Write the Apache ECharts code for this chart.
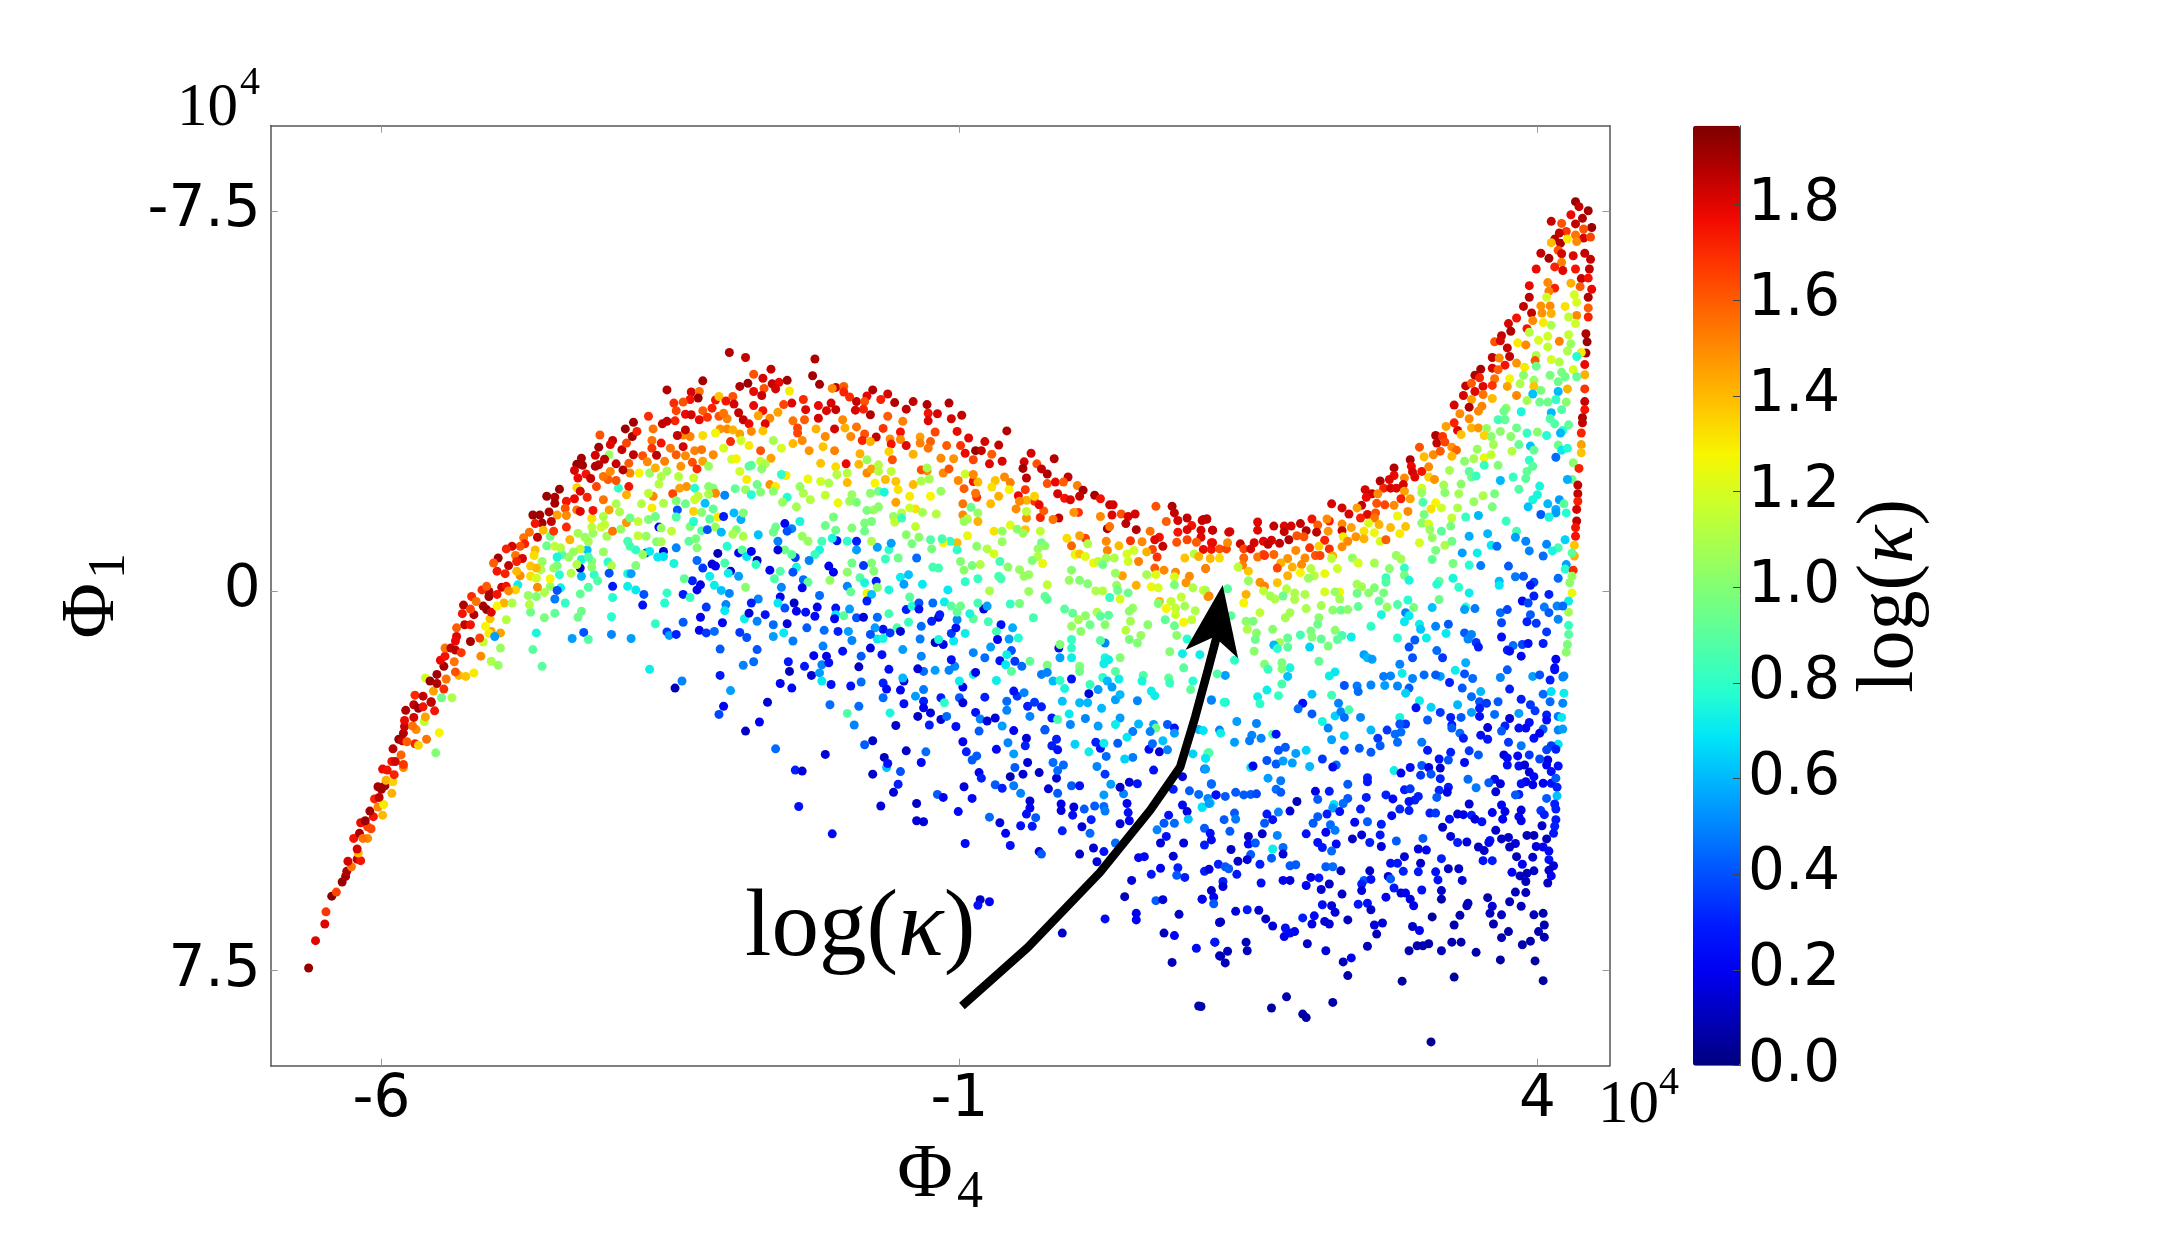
<!DOCTYPE html>
<html><head><meta charset="utf-8"><style>html,body{margin:0;padding:0;background:#fff}#c{width:2160px;height:1253px}</style>
<script src="https://cdn.jsdelivr.net/npm/echarts@6/dist/echarts.min.js"></script></head><body><div id="c"></div>
<script>
// Each list holds triples: Φ4 measured from the -1 tick, Φ1, log(κ), all in axis units (×10^4).
const PHI4_ORIGIN=-1;
const tail=[-5.63,7.45,1.93,-5.57,6.91,1.8,-5.49,6.58,1.8,-5.48,6.34,1.68,-5.43,6.03,1.95,-5.39,5.95,1.65,-5.34,5.75,1.92,-5.31,5.64,1.9,-5.3,5.54,1.88,-5.26,5.45,1.55,-5.29,5.34,1.82,-5.21,5.3,1.85,-5.18,5.33,1.75,-5.2,5.18,1.4,-5.21,5.1,1.82,-5.24,4.89,1.75,-5.19,4.79,1.88,-5.12,4.89,1.5,-5.16,4.89,1.55,-5.09,4.7,1.65,-5.12,4.66,1.65,-5.18,4.58,1.78,-5.14,4.54,1.92,-5.07,4.46,1.75,-5.1,4.35,1.9,-4.99,4.43,1.4,-5.03,4.27,1.5,-4.98,4.22,1.3,-5.06,4.11,1.72,-5.02,4.08,1.85,-4.91,4,1.42,-5.03,3.87,1.9,-5,3.92,1.9,-4.97,3.85,1.9,-4.96,3.74,1.42,-4.9,3.77,1.35,-4.89,3.63,1.72,-4.99,3.52,1.78,-4.95,3.54,1.75,-4.81,3.49,1.5,-4.81,3.43,1.68,-4.91,3.37,1.75,-4.88,3.37,1.82,-4.83,3.24,1.58,-4.9,3.12,1.86,-4.53,3.2,1,-4.61,2.93,1.55,-4.5,2.8,1.28,-4.71,3.02,1.72,-4.68,3.05,1.35,-4.85,2.93,1.92,-4.82,2.96,1.85,-4.78,2.98,1.6,-4.81,2.81,1.88,-4.7,2.74,1.5,-4.8,2.68,1.85,-4.8,2.56,1.78,-4.73,2.67,1.55,-4.63,2.58,1.15,-4.72,2.5,1.82,-4.62,2.49,1.45,-4.79,2.36,1.88,-4.72,2.25,1.86,-4.68,2.32,1.92,-4.64,2.29,1.75,-4.54,2.37,1.75,-4.57,2.2,1.95];
const leftArm=[-4.71,2.06,1.7,-4.64,2.08,1.85,-4.57,2.19,1.85,-4.48,2.11,.95,-4.39,2.11,1.1,-4.55,1.98,1.45,-4.62,1.72,1.2,-4.58,1.78,1.92,-4.52,1.65,1.9,-4.52,1.83,1.88,-4.46,1.94,1.7,-4.44,1.74,1.55,-4.33,1.67,1.42,-4.27,1.69,1.38,-4.2,1.62,1.3,-4.36,1.6,1.62,-4.46,1.49,1.9,-4.49,1.37,1.78,-4.37,1.4,1.55,-4.45,1.29,1.75,-4.45,1.13,1.55,-4.4,1.13,1.85,-4.36,1.17,1.87,-4.31,1.22,1.68,-4.14,1.29,1.5,-4.05,1.39,1.1,-3.99,1.47,1.05,-3.97,1.13,1.05,-4.12,1.01,1.15,-4.23,1,1.9,-4.15,.93,1.65,-4.35,.9,1.8,-4.36,.99,1.78,-3.97,.83,1.45,-4.05,.8,1.45,-4.07,.84,1.3,-4.02,.9,.55,-4.28,.67,1.85,-4.23,.67,1.75,-4.35,.73,1.6,-4.1,.7,1.28,-3.92,.57,1.12,-4.06,.55,1.38,-4.3,.45,1.75,-4.2,.47,1.88,-4.09,.37,1.92,-4.05,.42,1.8,-4.12,.3,1.9,-4.29,.28,1.88,-4.22,.11,1.7,-4.23,.36,1.65,-3.94,.24,1.42,-4,.3,1.28,-3.87,.24,1.1,-3.71,.42,.95,-3.72,.27,1.12,-3.59,.53,.98,-3.5,.44,.92,-3.66,.83,.75,-3.69,1.16,.9,-3.61,1.49,.9,-3.3,.52,.95,-3.27,.4,.95,-3.35,.94,.55,-3.25,.82,.4,-3.21,.96,.88,-3.01,.86,.5,-2.84,.94,.55,-3.01,.51,.78,-2.63,.65,.8,-2.68,1.55,.72,-2.53,.81,.35,-2.51,.88,.55,-2.45,.86,.3,-2.39,.62,.42,-2.25,.78,.2,-2.19,.83,.35,-2.12,.8,.45,-2.24,.52,.2,-2.05,.63,.2,-1.9,.82,.35,-1.84,.92,.4,-2.07,1.15,.42,-1.87,1.47,.5,-2.07,1.67,.28,-2.4,1.78,.5,-2.46,1.92,.1,-1.98,1.97,.55,-2.04,2.28,.2,-2.08,2.44,.38,-1.85,2.77,.12];
const leftMid=[-3.82,-.12,.72,-3.84,-.02,1.35,-3.73,.09,1.05,-3.66,.11,1,-3.59,.03,1.1,-3.54,-.09,1.05,-3.65,-.07,1.5,-3.54,-.24,1.28,-3.45,-.06,.72,-3.48,-.01,.4,-3.5,.16,.48,-3.41,.24,.82,-3.28,.06,.92,-3.21,-.07,.88,-3,.13,.78,-3,-.09,.28,-2.87,-.09,.72,-2.8,-.02,.7,-2.73,.07,.4,-2.74,.28,.25,-2.53,.04,.8,-2.55,.24,.78,-2.39,.07,.3,-2.33,.13,.82,-2.27,-.02,.2,-2.24,-.12,.18,-2.31,-.2,.3,-2.38,-.24,.92,-2.19,.32,.35,-2.12,-.11,.72,-2.06,-.01,.62,-1.99,.05,.5,-2.02,.27,.5,-2.03,.39,.7,-1.86,.55,.72,-1.82,.44,.15,-1.91,-.29,.55,-1.85,-.07,1.02,-2.16,-.29,.72,-2.22,-.45,.35,-2.14,-.53,.15,-2.11,-.49,.2,-2.27,-.6,.45,-2.09,-.74,.1,-1.98,-.39,.15,-2,-.35,.72,-2.03,-.55,.85,-2.01,-.88,.78,-1.91,-.75,.2,-1.88,-.81,.9,-1.84,-.68,.68,-2.47,-.54,.75,-2.56,-.78,.12,-2.56,-.68,.68,-2.61,-.67,.7,-2.71,-.75,.35,-2.68,-.78,.7,-2.74,-.72,1.05,-2.8,-.81,.8,-2.85,-.88,.85,-2.87,-.98,.85,-2.8,-.5,1,-3.04,-.57,.78,-3.01,-.5,1.1,-3.08,-.77,1.05,-3.03,-.35,.4,-2.87,-.34,.75,-2.84,-.34,.55,-2.45,-.85,.5,-2.27,-.85,1,-2.34,-.98,.9,-2.28,-1.03,.98,-3.16,-.32,.8,-3.13,-.2,.88,-3.27,-.29,.6,-3.28,-.45,.1,-3.27,-.62,.75,-3.22,-.81,.62,-3.18,-.58,1,-3.18,-.47,1.02,-3.21,-.67,.88,-3.36,-.35,1.12,-3.31,-.52,1.12,-3.28,-.83,1.15,-3.34,-.77,1.05,-3.38,-.67,1.05,-3.44,-.72,.9,-3.48,-.67,.75,-3.46,-.32,.78,-3.51,-.45,1.05,-3.48,-.5,1,-3.61,-.58,1.05,-3.62,-.42,1.1,-3.57,-.89,.95,-3.5,-.88,1.15,-3.45,-.85,1.12,-3.3,-1.14,1.08,-3.24,-1.06,1.05,-3.21,-.97,1.08,-3.54,-1.08,.95,-3.05,-1.08,1.08,-3.17,-1.14,1.05,-3.18,-1.26,1.12,-3.1,-1.26,1.18,-3.07,-1.31,1.15,-2.78,-1.09,1.15,-2.71,-1.08,1.05,-3,-1.18,1.55,-2.93,-1.22,1.05,-2.88,-1.35,1.48,-2.78,-1.37,1.15,-2.85,-1.44,.95,-2.69,-1.41,1,-2.94,-1.56,1.1,-3.08,-1.47,1.1,-3.18,-1.43,1.32,-3.03,-1.6,1.45,-2.97,-1.72,1.1,-3.08,-1.8,1.55,-2.75,-1.72,1.12,-2.66,-1.64,1.3,-2.63,-1.47,.95,-2.44,-1.6,.4,-2.45,-1.46,.88,-2.6,-1.26,.2,-2.58,-1.24,1.05,-2.49,-1.18,1.15,-2.62,-.97,1,-2.58,-.97,1.08,-2.33,-1.27,.98,-2.3,-1.37,.78,-2.23,-1.19,.9,-2.18,-1.21,.4,-2.11,-1.26,1.05,-2.06,-1.16,.6,-2.16,-1.42,.9,-2.23,-1.55,1.02,-2.3,-1.57,1.35,-2.09,-1.46,1.3,-2.04,-1.47,.3,-2.13,-1.62,.92,-2.2,-1.73,.62,-1.95,-1.54,.6,-1.89,-1.41,.58,-1.87,-1.54,1,-1.93,-1.21,1,-1.96,-1.12,1.08,-1.87,-1.08,1.1];
const leftUpper=[-2.42,-2.03,1.45,-2.36,-2.06,1.48,-2.48,-1.92,1.65,-2.37,-1.72,.95,-2.45,-1.78,1,-2.56,-1.73,1.1,-2.65,-1.87,1.5,-2.69,-1.93,1.15,-2.29,-2.03,.78,-2.17,-2.06,1.02,-2.13,-2.03,1,-2.11,-1.93,1.5,-2.03,-1.89,.5,-1.94,-2.02,.92,-2.29,-1.8,1.18,-2.26,-1.87,1.15,-2.17,-1.91,1.1,-1.85,-2,1.05,-1.84,-2.2,1.3,-1.9,-2.36,1.18,-1.82,-2.46,.9,-2.3,-2.23,1.18,-2.43,-2.26,1.12,-2.53,-2.37,1.08,-2.58,-2.26,1.1,-2.6,-2.11,1.12,-2.68,-2.33,1.05,-2.77,-2.33,1.28,-2.85,-2.33,1.5,-2.86,-2.06,1.75,-2.95,-2.03,.8,-2.88,-1.9,1.42,-2.97,-2.18,1.62,-3.04,-2.2,1.6,-3.08,-2.26,1.55,-3.14,-2.06,1.65,-3.02,-2.36,1.5,-2.91,-2.39,1.88,-2.97,-2.51,1.85,-2.86,-2.52,1.6,-2.82,-2.69,1.85,-2.92,-2.79,1.85,-2.88,-2.92,1.65,-2.83,-3.05,1.9,-2.89,-3.2,1.92,-2.82,-3.33,1.9,-2.79,-3.15,1.72,-2.69,-3.45,1.7,-2.65,-3.2,1.55,-3,-2.97,1.85,-3.02,-2.89,1.8,-3.11,-3.08,1.62,-3.12,-2.84,1.9,-3.15,-2.68,1.82,-3.03,-2.69,1.05,-3.07,-2.6,1.86,-3.12,-2.49,1.85,-3.15,-2.46,1.88,-3.27,-2.62,1.9,-3.31,-2.5,1.92,-3.26,-2.48,1.9,-3.33,-2.38,1.82,-3.23,-2.31,1.75,-3.3,-2.23,1.78,-3.19,-2.22,1.85,-3.31,-2.04,1.35,-3.28,-1.97,1.82,-3.22,-1.85,1.72,-3.33,-1.82,1.78,-3.46,-2.01,1.92,-3.57,-1.87,1.92,-3.5,-1.85,1.88,-3.4,-1.77,1.75,-3.5,-1.73,1.9,-3.41,-1.63,1.62,-3.48,-1.5,1.45,-3.4,-1.49,1.5,-3.31,-1.6,1.55,-3.28,-1.57,1.8,-3.17,-1.59,1.75,-3.55,-1.56,1.88,-3.63,-1.5,1.9,-3.69,-1.5,1.92,-3.61,-1.34,1.9,-3.53,-1.37,1.85,-3.67,-1.33,1.75,-3.6,-1.2,1.4,-3.51,-1.18,1.68,-3.4,-1.26,1.7,-3.37,-1.01,1.42,-3.65,-1.06,1.85,-3.72,-1.16,1.55,-3.77,-1.05,1.55,-3.76,-.93,1.72,-3.8,-.88,1.62,-3.87,-.88,1.82,-3.92,-.83,1.72,-3.67,-.81,1.4,-3.68,-.7,1.33,-3.99,-.65,1.9,-4.03,-.55,1.6,-3.84,-.7,1.55,-3.78,-.64,1.82,-3.83,-.58,1.72,-3.9,-.5,1.85,-4,-.39,1.75,-3.93,-.34,1.72,-3.8,-.3,1.5,-3.71,-.49,1.38,-3.66,-.45,1.4,-3.71,-.29,1.32,-3.66,-.25,1.2,-3.83,-.39,1.4,-3.96,-.07,1.82,-3.92,-.09,1.75,-4.07,.01,1.88,-4.07,.11,1.9,-4.13,-.02,1.7,-4.09,-.09,1.6,-4,.07,1.75,-4.18,.21,1.55,-3.9,0,1.5];
const humpTop=[-2.53,-3.97,1.88,-2.22,-4.15,1.9,-1.99,-4.71,1.88,-1.85,-4.61,1.85,-2.32,-3.93,1.82,-2.25,-3.94,1.55,-2.26,-3.81,1.92,-2.33,-3.78,1.75,-2.39,-3.73,1.62,-2.47,-3.71,1.7,-2.45,-3.56,1.65,-2.46,-3.36,1.72,-2.53,-3.35,1.85,-2.57,-3.3,1.85,-2.37,-3.49,1.78,-2.32,-3.48,1.82,-2.22,-3.56,1.6,-2.25,-3.38,1.78,-2.18,-3.43,1.68,-2.14,-3.61,1.72,-2.11,-3.77,1.75,-2.08,-3.84,1.38,-2.02,-3.75,1.75,-1.96,-3.84,1.62,-1.9,-4.04,1.88,-1.83,-4.1,1.92,-1.95,-3.69,1.82,-1.91,-3.52,1.85,-1.87,-3.38,1.85,-1.82,-3.3,1.78,-2.08,-3.45,1.62,-2.01,-3.4,1.52,-2.04,-3.51,1.55,-2.07,-3.2,1.48,-2.01,-3.2,1.5,-1.96,-3.18,1.42,-2.11,-3.12,1.28,-2.22,-3.07,1.33,-2.33,-3.05,1.52,-2.39,-3.08,1.5,-2.44,-3.07,1.85,-2.37,-3.18,1.85,-2.58,-2.92,1.75,-2.66,-2.97,1.55,-2.66,-2.82,1.68,-2.74,-2.67,1.62,-2.62,-2.68,1.86,-2.7,-2.55,1.5,-2.63,-2.43,1.42,-2.55,-2.56,1.52,-2.5,-2.82,1.55,-2.39,-2.85,1.82,-2.45,-2.69,1.6,-2.37,-2.67,1.5,-2.41,-2.46,1.48,-2.31,-2.54,1.62,-2.27,-2.41,1.7,-2.22,-2.56,1.45,-2.29,-2.77,1.52,-2.23,-2.79,1.55,-2.13,-2.69,1.5,-1.98,-2.95,1.7,-1.9,-3.1,1.45,-2.04,-2.82,1.2,-1.97,-2.6,1.18,-1.93,-2.61,1.28,-1.89,-2.97,1.18,-2.17,-2.46,1.05,-1.82,-2.87,1.3];
const ridgeMiddle=[-1.25,-4.58,1.88,-1.63,-4.38,1.85,-1.78,-4.28,1.62,-1.7,-4.2,1.82,-1.62,-4.09,1.85,-1.56,-4.12,1.78,-1.49,-4.16,1.9,-1.27,-4.25,1.9,-1.21,-4.08,1.9,-1.47,-3.95,1.3,-1.59,-3.99,1.82,-1.69,-4,1.62,-1.78,-3.94,1.78,-1.71,-3.86,1.85,-1.07,-4.02,1.85,-1.1,-4,1.5,-1,-4.04,1.6,-1,-3.93,1.72,-.95,-3.83,1.7,-.89,-3.74,1.85,-.75,-3.97,1.88,-.8,-3.85,1.8,-.82,-3.74,1.62,-.62,-3.89,1.82,-.68,-3.78,1.72,-.56,-3.72,1.88,-.4,-3.74,1.85,-.28,-3.68,1.88,-.09,-3.71,1.88,-.46,-3.59,1.85,-.27,-3.51,1.75,-.19,-3.5,1.82,.02,-3.47,1.85,-.07,-3.4,1.82,-.27,-3.36,1.8,-.62,-3.45,1.6,-.77,-3.48,1.88,-.83,-3.59,1.72,-.9,-3.57,1.82,-1.07,-3.58,1.85,-1.15,-3.56,1.8,-1.22,-3.66,1.78,-1.11,-3.71,1.82,-1.35,-3.78,1.7,-1.45,-3.71,1.8,-1.52,-3.68,1.65,-1.33,-3.58,1.8,-1.7,-3.56,1.75,-1.78,-3.66,1.78,-1.57,-3.53,1.45,-1.64,-3.41,1.5,-1.68,-3.3,1.8,-1.74,-3.46,1.45,-1.44,-3.36,1.55,-1.34,-3.38,1.6,-1.22,-3.41,1.82,-1.01,-3.38,1.5,-.89,-3.24,1.55,-.99,-3.22,1.42,-1.08,-3.2,1.82,-1.24,-3.2,1.42,-1.4,-3.22,1.65,-1.7,-3.16,1.38,-1.8,-3.15,1.5,-1.4,-3.12,1.65,-1.36,-2.97,1.5,-1.44,-2.91,1.4,-1.16,-3.05,1.5,-1.18,-2.85,1.38,-1.3,-2.77,1.48,-1.08,-2.77,1.52,-.94,-3.05,1.5,-.82,-3.1,1.62,-.72,-3.04,1.85,-.66,-3.21,1.68,-.51,-3.14,1.75,-.49,-3.35,1.52,-.21,-3.14,1.65,-.02,-3.15,1.78,-.84,-2.97,1.72,-.77,-2.95,1.42,-.6,-3,1.5,-.59,-2.9,1.75,-.51,-2.99,1.5,-.46,-2.87,1.8,-.34,-3.04,1.45,-.34,-2.92,1.52,-.25,-2.95,1.6,-.27,-2.82,1.55,-.11,-2.87,1.6,.01,-2.87,1.68,.08,-3.02,1.8,.22,-2.95,1.82,.34,-2.88,1.85,.41,-3.16,1.88,.14,-2.77,1.92,.19,-2.77,1.85,.05,-2.72,1.78,.28,-2.7,1.6,.12,-2.59,1.65,.26,-2.51,1.8,.37,-2.56,1.82,.62,-2.72,1.82,.56,-2.55,1.82,.82,-2.61,1.88,.67,-2.51,1.62,.71,-2.41,1.85,.55,-2.42,1.9,.76,-2.31,1.88,.58,-2.23,1.86,.94,-2.25,1.85,.76,-2.12,1.62,.83,-2.15,1.78,.9,-2.15,1.6,1.02,-2.08,1.52,1.07,-1.99,1.9,.57,-2,1.68,.51,-1.88,1.78,.85,-1.92,1.82,.91,-1.83,1.75,.96,-1.8,1.8,1.04,-1.87,1.85,1.17,-1.89,1.9,1.22,-1.82,1.75,1.3,-1.7,1.85,1.33,-1.7,1.82,1.7,-1.67,1.62,1.84,-1.67,1.88,1.86,-1.54,1.85,1.32,-1.5,1.8,1.4,-1.52,1.62,1.46,-1.47,1.82,1.52,-1.52,1.82,1.44,-1.33,1.86,1.22,-1.47,1.5,1.89,-1.39,1.82,1.97,-1.44,1.86,2.1,-1.39,1.85,2.14,-1.42,1.85,1.79,-1.37,1.6,2.01,-1.29,1.75,2.19,-1.2,1.88,2.09,-1.2,1.82,1.97,-1.21,1.8,1.89,-1.16,1.75,1.65,-1.18,1.55,1.28,-1.23,1.9,1.3,-1.27,1.55,1.53,-1.21,1.88,1.73,-1.06,1.75,1.69,-1.01,1.8,1.76,-.88,1.85,2.09,-1.06,1.8,2.33,-1.16,1.8,2.18,-.95,1.75,1.88,-.96,1.62,1.97,-1.01,1.65,2.05,-.96,1.6,2.11,-.82,1.78,2.18,-.82,1.75,2.25,-.83,1.62,2.31,-.83,1.65,1.58,-.97,1.5,1.48,-.99,1.68,1.67,-.82,1.65,1.71,-.67,1.68,1.62,-.77,1.42,1.38,-.89,1.4,1.27,-.98,1.5,1.28,-.8,1.52,1.09,-1.04,1.65,1.04,-1.09,1.45,.97,-.89,1.58,.93,-1.04,1.33,.86,-1.44,1.85,.81,-1.41,1.55,1.03,-1.55,1.68,.99,-1.55,1.48,.7,-1.45,1.72,.58,-1.44,1.48,.73,-1.58,1.6,.49,-1.62,1.5,.65,-1.77,1.68,.69,-1.7,1.78,.58,-1.79,1.42,.52,-1.77,1.5,.65,-1.87,1.35,.39,-2.25,1.5,.44,-2.14,1.52,.31,-2.18,1.38,.28,-2.05,1.32,.43,-2,1.28,.34,-1.87,1.42,.27,-1.72,1.4,.15,-1.85,1.68,.14,-1.93,1.55,.04,-2.02,1.6,.12,-2.16,1.75,.16,-2.15,1.4,-.01,-2.18,1.5,-.14,-2.33,1.5,-.09,-2.41,1.62,.05,-2.31,1.18,.12,-2.3,1.5,-.05,-2.61,1.48,-.16,-2.62,1.5,-.28,-2.37,1.5,-.33,-2.39,1.62,-.4,-2.7,1.42,-.58,-2.59,1.62,-.61,-2.75,1.35,-.86,-2.71,1.42,-.98,-2.51,1.78,-1.2,-2.52,1.38,-1.07,-2.45,1.33,-.8,-2.33,1.5,-.76,-2.41,1.45,-.87,-2.5,1.4,-1.72,-2.77,1.62,-1.63,-2.62,1.45,-1.54,-2.82,1.2,-1.61,-2.97,1.08];
const midBand=[-1.72,-2.56,1.15,-1.68,-2.51,1.1,-1.71,-2.41,1.02,-1.8,-2.48,.9,-1.5,-2.28,1.3,-1.54,-2.3,.8,-1.64,-2.1,1.48,-1.75,-2.1,.95,-1.59,-2.06,1.3,-1.72,-1.95,1,-1.61,-1.97,1.02,-1.8,-1.9,.78,-1.49,-1.85,.78,-1.53,-1.75,1.05,-1.41,-1.66,1.08,-1.38,-2.06,1.05,-1.31,-2.21,1.25,-1.35,-1.93,1.1,-1.29,-1.8,1.12,-1.2,-2.16,1.18,-1.13,-2.13,1.1,-.97,-2.14,1.4,-.97,-2.33,1.12,-1.06,-2.3,1.12,-1.16,-1.89,1.15,-1.05,-1.74,1.25,-.93,-1.9,1.05,-.95,-1.77,1.05,-.89,-1.75,.98,-.8,-1.59,.98,-.74,-1.6,1.05,-.7,-1.66,1.02,-.77,-1.93,1.02,-.7,-1.97,.95,-.65,-1.95,.75,-.73,-2.13,1.28,-.64,-2.2,1.4,-.55,-2.16,1.38,-.53,-2,1.32,-.59,-2.36,1.15,-.7,-2.49,1.12,-.8,-2.59,1.05,-.7,-2.36,1.12,-.55,-1.75,1.45,-.43,-1.87,1.3,-.4,-2.1,1.4,-.33,-2.17,1.1,-.26,-2.21,1.08,-.28,-2.43,1.08,-.16,-1.97,1.05,-.25,-1.87,1.28,-.38,-1.62,1.32,-.43,-1.64,1.18,-.32,-1.55,1.08,-.2,-1.52,1.12,-.5,-1.54,1.12,-.57,-1.47,1.05,-.56,-1.36,1.15,-.5,-1.44,.82,.03,-1.72,1.55,.03,-1.5,1.5,.1,-1.65,.95,.16,-1.54,1.05,.07,-1.42,1.12,.16,-1.37,1.42,.04,-1.37,1.05,.3,-1.18,1.32,.37,-1.18,1.05,.44,-1.3,1.22,.5,-1.22,1.02,.57,-1.21,1.38,.55,-1.14,1.05,.7,-1.18,1.15,.58,-1.57,1.15,.37,-.97,1.05,.71,-.95,.95,.74,-.89,1.02,.68,-.83,1.05,.68,-.68,1.12,.72,-.54,1.25,.63,-.6,1,1.11,-.93,1.1,1,-.72,1.25,1.04,-.73,1.38,1.09,-.68,1.22,1.16,-.55,1.28,1.2,-.58,1.15,1.27,-.65,1.08,1.34,-.65,1.1,1.45,-.73,1.2,1.46,-.58,1.18,1.51,-.8,1.18,1.55,-.58,1.52,1.69,-.45,1.6,1.77,-.41,1.5,1.87,-.37,1.5,1.95,-.65,1.38,2.03,-.73,1.12,2.07,-.68,1.42,2.17,-.64,1.4,2.25,-.65,1.33,2.13,-.44,1.52,1.99,-.29,1.5,1.96,-.16,1.48,1.86,-.28,1.2,1.7,-.32,1.22,1.62,-.32,1.08,1.41,-.3,1.45,1.35,-.35,1.05,1.24,-.52,.95,.97,-.41,1.02,.95,-.21,1.05,1.04,-.21,1,1.11,-.14,1,1.18,0,1.1,1.24,0,1.12,1.36,-.11,1.05,1.37,-.01,.95,1.3,.13,.82,1.46,.04,.95,1.53,-.11,1.42,1.66,-.08,1.27,1.72,-.06,1.2,1.86,-.12,.98,2.02,-.06,1.1,2.11,-.01,1.2,2.15,.11,1.48,1.92,.12,1.15,1.73,.21,1.42,1.72,.25,1,1.39,.16,1.2,1.5,.34,1.05,1.47,.4,1.02,1.79,.35,1.28,1.83,.21,1.15,1.87,.34,1.15,1.87,.47,1.18,1.95,.3,1.08,2.04,.39,1.1,1.94,.62,1.28,2.01,.57,1.15,1.78,.57,.92,1.86,.69,.95,1.63,.67,1.02,1.48,.6,1.08,1.44,.78,1.12,1.26,.67,1.02,1.19,.42,1.1,1.29,.48,.9,1.22,.5,.9,1.09,.49,1.02,1.03,.57,1.08,1.13,.67,.95,.97,.7,1.05,1.05,.8,1.02,.98,.44,.92,.91,.36,.9,.64,.53,.85,.74,.11,.92,.76,.17,.9,.76,-.12,1.15,.6,.01,1.05,.52,.25,.98,.44,.26,.82,.26,0,1.1,.56,-.29,1.05,.6,-.32,1.05,.52,-.42,1.05,.42,-.47,1.02,.36,-.24,.85,.34,-.29,.85,.35,-.58,.85,.3,-.73,1.2,.24,-.83,1.12,.15,-.88,1.02,.18,-.52,1.12,.11,-.5,.98,.04,-.41,1.02,.01,-.58,1,.16,-.24,.82,.05,-.18,.8,.07,-1.09,1.25,-.02,-.95,1.4,-.02,-.81,.8,-.08,-.98,.8,-.14,-.95,1.28,-.15,-1.03,.85,-.25,-1.01,.88,-.24,-.83,.98,-.35,-1.06,1.02,-.46,-1.11,1.02,-.41,-.93,.98,-.38,-1.27,1.15,-.23,-.47,.85,-.18,-.45,.85,-.53,-.65,.95,-.64,-.63,.82,-.61,-.81,.8,-.59,-.94,.55,-.71,-.86,.55,-.76,-.98,1.1,-.89,-.81,.55,-.89,-.98,.3,-.97,-.98,.8,-1.06,-.99,.25,-1.1,-1.04,.75,-1.19,-.98,.85,-1.21,-.81,.75,-1.25,-.72,.82,-1.3,-.6,.5,-1.42,-.66,.35,-1.45,-.72,.9,-1.51,-.81,.95,-1.57,-.98,.5,-1.57,-.81,.15,-1.75,-.6,.1,-1.76,-.52,.8,-1.74,-1.11,.62,-1.8,-.78,.2,-1.51,-1.33,.2,-1.45,-1.23,.5,-1.49,-1.18,.4,-1.61,-1.16,.95,-1.59,-1.26,.95,-1.38,-1.37,.75,-1.36,-1.08,1.05,-1.31,-.98,1.05,-1.09,-1.46,.98,-1.16,-1.29,.95,-1.07,-1.2,.95,-.93,-1.24,1,-.82,-1.18,.95,-.82,-1.34,.98,-.76,-1.37,.98,-.93,-.55,.95,-.76,-.55,1,-.74,-.39,1,-.83,-.5,.35,-1.13,-.49,.2,-1.09,-.37,.2,-.97,-.37,1.02,-1.12,-.21,1.05,-1.35,-.22,.45,-1.31,-.17,.92,-1.41,-.47,.75,-1.44,-.37,.4,-1.55,-.39,.88,-1.6,-.24,.88,-1.64,-.41,.2,-1.54,-.07,.5,-1.36,-.06,.2,-1.21,.09,.45,-.97,-.09,.5,-.94,.02,.92,-.86,-.26,.88,-.82,-.16,.75,-.72,-.19,.3,-.71,-.07,1.02,-.8,.05,1.25,-.76,.07,.62,-.61,-.02,.75,-.51,-.27,.72,-.44,-.32,.62,-.48,-.13,.55,-.32,-.13,.7,-.1,-.02,.7,-.37,-.65,.45];
const lowerMiddle=[-1.43,.24,.12,-1.55,.12,.2,-1.51,.34,.4,-1.57,.24,.7,-1.74,.16,.5,-1.8,.24,.3,-1.68,.47,.25,-1.75,.6,.5,-1.61,.67,.45,-1.49,.65,.15,-1.52,.83,.7,-1.61,.9,.55,-1.44,.99,.48,-1.75,1.16,.4,-1.78,1.4,.45,-1.41,.4,.2,-1.33,.42,.25,-1.25,.5,.22,-1.32,.73,.42,-1.23,.32,.2,-1.07,.34,.25,-1.07,.47,.7,-1.08,.55,.2,-1.17,.78,.45,-1.05,.8,.3,-.96,.8,.55,-1,.49,.9,-.95,.36,.55,-.89,.53,.4,-.83,.52,.15,-.71,.52,.45,-.61,.45,.85,-.8,.2,.3,-.46,.37,.3,-.43,.12,.9,-.41,.3,.78,-.35,.24,.4,-.35,.36,.25,-.23,.24,.45,-.13,.22,.72,-.18,.52,.12,-.24,.6,.3,-.33,.7,.45,-.44,.62,.82,-.54,.73,.88,-.51,.8,.15,-.66,.76,.25,-.73,.73,.55,-.71,.95,.7,-.66,.94,.75,-.6,.83,.35,-.77,.86,.4,-.93,.98,.5,-1.18,1.09,.5,-1.01,1.19,.25,-1.26,1.28,.2,-1.15,1.29,.18,-1.48,1.4,.28,-1.47,1.59,.1,-1.34,1.49,.28,-1.28,1.67,.15,-1.19,1.46,.5,-1.13,1.42,.25,-1.21,1.62,.55,-1.19,1.78,.7,-1.11,1.85,.25,-1.55,1.83,.2,-1.45,1.92,.22,-1.66,2.2,.15,-1.73,2.59,.2,-1.12,2.25,.45,-.94,1.88,.25,-.85,1.8,.45,-.87,1.5,.12,-.61,1.55,.25,-.67,1.26,.25,-.77,1.13,.15,-.85,1.29,.42,-.49,1.16,.55,-.33,1.29,.5,-.21,1.02,.12,-.14,1.06,.2,-.34,.95,.48,-.18,.96,.75,-.05,.99,.7,.05,.84,.72,-.07,.84,.35,-.03,.73,.25,-.02,.57,.5,-.17,.47,.3,.12,.55,.9,.09,.45,.75,.21,.36,.15,.24,.3,.55,.16,.24,.85,.01,.3,.95,-.07,.3,.9,-.02,.42,.92,.25,.61,.85,.36,.67,.25,.46,.73,.58,.32,.8,.85,.33,.96,.2,.43,.95,.55,.51,.93,.78,.27,1.11,.55,.12,1.22,.5,.45,1.18,.4,.22,1.32,.45,.41,1.26,.72,.35,1.38,.25,.48,1.39,.35,.61,1.39,.92,.76,1.47,.98,.4,1.46,.7,.45,1.59,.9,.54,1.49,.45,.86,1.13,.25,.87,1.06,1,.97,.96,.82,.97,1.13,.8,.87,1.32,.55,.97,1.32,.72,1.26,1.03,.5,1.22,.98,.9,1.26,1.32,.75,1.29,1.36,.72,1.25,1.44,.72,1.39,1.32,1,1.04,1.49,1,1.04,1.59,.95,1.35,1.59,.9,1.24,1.71,.8,1.28,1.78,.6,1.38,1.74,.72,1.59,1.67,.88,1.58,1.78,.75,1.81,1.72,.92,1.82,1.82,.82,2.02,1.78,.78,1.94,1.52,.9,2,1.95,.92,1.47,.96,.98,1.54,1.03,1,1.57,.88,1.05,1.88,.88,1.02,1.97,.95,.78,1.82,1.2,1,1.93,1.24,.72,2.08,1.26,.72,.71,1.65,.48,.76,1.61,.5,.81,1.78,.6,.87,1.77,.8,.97,1.74,.25,.91,1.93,.75,1.13,1.85,.82,1.2,1.95,.55,1.32,1.9,.55,1.12,2.03,.15,1.35,2.15,.55,1.39,2.05,.6,1.54,2.17,.5,1.66,1.98,.72,1.69,2.07,.72,2.18,2.15,.62,2.3,2.2,.72,.89,2.18,.62,1.04,2.21,.6,1.11,2.21,.6,1.23,2.32,.6,.95,2.43,.7,1.09,2.52,.5,1.39,2.51,.55,1.35,2.64,.72,1.55,2.63,.6,1.68,2.64,.55,1.8,2.64,.42,1.86,2.71,.25,1.7,2.71,.95,2.07,2.74,.6,2.25,2.75,.5,.96,2.64,.5,1.2,2.67,.55,.61,2.48,.5,.8,2.51,.3,.85,2.54,.85,.74,2.74,.35,.37,2.67,.55,.59,2.28,.3,.41,2.18,.45,.5,2.08,.35,.47,1.98,.25,.56,2.01,.5,.71,2.29,.3,.65,2.2,.35,.41,2.36,.5,.32,1.77,.72,.12,1.65,.72,.14,1.61,.2,.03,1.9,.2,0,1.78,.72,-.04,1.49,.5,-.09,1.57,.5,-.07,1.36,.25,-.21,1.57,.55,-.31,1.59,.45,-.36,1.54,.15,-.48,1.78,.15,-.49,1.72,.6,-.51,1.96,.2,-.66,1.82,.3,-.63,1.94,.22,-.66,2.11,.45,-.48,2.23,.25,-.38,2.08,.55,-.31,1.95,.48,-.31,2.18,.3,-.31,2.31,.2,-.36,2.48,.12,-.25,2.41,.15,-.97,2.42,.88,-.87,2.28,.45,-.91,2.65,.5,-.6,2.41,.75,-.55,2.66,.12,-.26,2.65,.3,-.16,2.54,.15,-.11,2.48,.45,-.16,2.11,.3,-.13,2.21,.8,0,2.11,.42,.03,2.21,.15,.22,2.1,.3,.14,2.4,.25,.18,2.53,.5,.31,2.51,.15,.24,2.57,.15,-.03,2.68,.25,.47,2.76,.2,.17,2.77,.42];
const rightRiseA=[5.33,-7.69,1.92,5.36,-7.59,1.85,5.44,-7.51,1.9,5.29,-7.43,1.78,5.39,-7.36,1.88,5.12,-7.3,1.85,5.21,-7.26,1.62,5.33,-7.25,1.85,5.47,-7.18,1.92,5.4,-7.15,1.62,5.25,-7.1,1.68,5.19,-7.07,1.85,5.33,-7.03,1.55,5.15,-6.95,1.88,5.2,-6.87,1.88,5.26,-6.95,1.3,5.4,-6.97,1.82,5.46,-6.99,1.65,5.34,-6.9,1.5,5.12,-6.88,1.4,5.18,-6.73,1.62,5.03,-6.67,1.85,5.21,-6.66,1.82,5.31,-6.62,1.8,5.41,-6.67,1.85,5.1,-6.57,1.9,5.46,-6.55,1.85,5.21,-6.49,1.52,5.15,-6.4,1.72,5.22,-6.33,1.8,5.33,-6.36,1.75,5.45,-6.36,1.85,4.99,-6.36,1.78,5.38,-6.17,1.85,5.44,-6.18,1.75,5.09,-6.09,1.5,5.29,-6.08,1.42,4.93,-6.03,1.78,5.15,-5.98,1.72,5.37,-6.01,1.6,5.47,-5.96,1.78,5.1,-5.92,1.52,5.32,-5.85,1.2,5.44,-5.8,1.88,4.93,-5.8,1.86,5.08,-5.8,1.18,4.88,-5.62,1.85,5.24,-5.62,1.32,5.03,-5.63,1.48,5.11,-5.63,1.5,5.34,-5.7,1.2,5.44,-5.59,1.6,4.95,-5.49,1.85,5.04,-5.49,1.48,5.12,-5.48,1.42,5.34,-5.44,1.5,5.27,-5.41,1.15,5.44,-5.41,1.72,4.82,-5.39,1.75,4.96,-5.34,1.5,5.05,-5.3,1.3,5.12,-5.25,1.1,5.33,-5.28,1.18,4.75,-5.28,1.82,4.91,-5.18,1.75,4.77,-5.13,1.88,5.42,-5.08,1.88,4.93,-5.11,1.12,5.09,-5.03,1.18,5.27,-5.06,1.15,4.69,-5.04,1.85,4.63,-4.92,1.62,4.68,-4.94,1.82,4.83,-4.9,1.3,4.9,-4.86,1.5,5.01,-4.95,1.2,5.19,-4.93,1.52,5.29,-4.88,1.05,5.43,-4.92,1.92,4.74,-4.8,1.85,5.09,-4.82,1.15,5.26,-4.74,1.1,5.42,-4.7,1.9,5.38,-4.71,1.3,4.76,-4.63,1.85,4.61,-4.61,1.86,4.67,-4.6,1.5,4.99,-4.65,1.1,5.34,-4.63,.78,4.98,-4.55,1.62,5.12,-4.57,1.2,5.19,-4.52,1.1,5.41,-4.47,1.78,4.72,-4.46,1.75,4.82,-4.5,1.48,4.51,-4.38,1.9,4.61,-4.4,1.82,4.66,-4.37,1.6,4.89,-4.42,1.3,5.31,-4.37,1.2,5.21,-4.32,.98,5.41,-4.27,1.42,4.46,-4.26,1.88,4.5,-4.21,1.72,4.63,-4.19,1.55,4.88,-4.26,1.02,4.99,-4.44,.95,5.11,-4.26,.98,5.24,-4.23,.95,4.76,-4.19,1.28,4.38,-4.05,1.85,4.43,-4.1,1.6,4.61,-4.06,1.68,4.74,-4.04,1.45,4.85,-4.09,1.1,4.97,-4.16,1.05,5.18,-4.13,.95,5.34,-4.23,.92,4.53,-4.04,1.8,4.46,-3.94,1.8,4.36,-3.86,1.82,4.53,-3.88,1.55,4.82,-3.86,1.5,4.97,-4.04,1.38,4.96,-3.89,.62,5.03,-3.96,.98,5.18,-3.94,.6,5.26,-3.99,1.42,5.41,-3.99,1.68,4.43,-3.78,1.45,4.61,-3.8,1.4,4.91,-3.76,1.08,5.02,-3.73,.95,5.09,-3.73,.95,5.25,-3.73,1.02,5.41,-3.74,1.85,4.28,-3.67,1.82,4.41,-3.63,1.88,4.52,-3.65,1.52,4.73,-3.61,1.02,5.16,-3.78,.8,5.21,-3.58,.88,5.41,-3.58,1.75,4.49,-3.55,1.5,4.33,-3.5,1.5,4.86,-3.54,.75,5.12,-3.52,.6,4.71,-3.55,.95,5.39,-3.42,1.88,4.41,-3.4,1.5,4.28,-3.32,1.72,4.66,-3.38,.85,4.72,-3.38,.92,5.11,-3.4,.88,5.39,-3.32,1.85,4.21,-3.25,1.45,4.43,-3.22,1.42,4.49,-3.22,1.48,4.56,-3.21,1.05,5.15,-3.3,.88,5.27,-3.28,.92,4.82,-3.22,.95,4.31,-3.17,1.8,4.68,-3.15,1.02,5,-3.14,1.02,4.91,-3.12,.82,5.38,-3.12,1.72,5.22,-3.17,.8,5.2,-3.12,.6,5.08,-3.07,.78,4.12,-3.07,1.88,4.18,-3.05,1.68,4.34,-3.09,1.38,4.54,-3.07,1.35,4.6,-3.05,1.02,4.77,-3.05,1.02];
const rightRiseB=[4.13,-2.92,1.85,4.2,-2.94,1.65,4.62,-2.89,1.08,4.84,-2.89,.92,4.94,-2.86,.62,5.18,-2.88,.95,5.38,-2.89,1.45,3.98,-2.84,1.62,4.26,-2.84,1.48,4.3,-2.78,1.58,4.48,-2.8,1.05,4.78,-2.76,1.12,4.97,-2.78,.92,5.21,-2.78,.7,5.26,-2.82,.78,5.38,-2.73,1.38,5.16,-2.64,.45,4.1,-2.69,1.5,4.16,-2.76,1.6,4.02,-2.65,1.4,4.26,-2.66,1.4,3.9,-2.59,1.88,4.54,-2.63,1.25,4.45,-2.61,1.08,4.37,-2.56,1.02,4.6,-2.69,1.15,4.93,-2.58,.8,5.31,-2.53,1.02,3.76,-2.43,1.88,3.91,-2.46,1.78,4,-2.36,1.75,4.06,-2.45,1.5,4.66,-2.48,1,4.54,-2.48,.82,4.96,-2.46,.9,5.36,-2.42,1.72,3.92,-2.35,1.82,4.24,-2.38,1.08,4.41,-2.36,.9,4.91,-2.36,.92,3.76,-2.28,1.78,3.94,-2.25,1.8,3.85,-2.23,1.5,4.06,-2.25,1.35,4.11,-2.2,1.48,4.43,-2.25,.95,4.47,-2.27,.82,4.79,-2.25,.82,4.9,-2.22,.9,4.68,-2.18,.6,5.3,-2.2,.95,5.26,-2.2,.58,3.64,-2.17,1.88,3.72,-2.2,1.8,5.35,-2.09,1.85,3.84,-2.1,1.82,3.67,-2.03,1.72,3.73,-2.03,1.82,3.78,-2.03,1.8,4,-2.03,1.2,4.19,-2.09,1.08,4.34,-2.11,1.02,5.02,-2.07,.75,3.51,-2,1.82,3.57,-1.92,1.85,3.62,-1.92,1.5,3.85,-1.97,1.45,4,-1.94,1.05,4.2,-1.94,1.02,4.32,-1.92,1.08,4.63,-1.92,.98,4.84,-2.01,.88,5,-1.9,.75,5.35,-1.92,1.85,3.52,-1.85,1.78,3.82,-1.82,1.72,3.9,-1.82,1.45,4.53,-1.88,1.1,4.01,-1.75,.88,4.12,-1.74,1.28,4.45,-1.76,1.05,4.96,-1.8,.75,5.19,-1.8,.55,5.23,-1.72,.9,5.35,-1.77,1.72,3.22,-1.72,1.82,3.48,-1.69,1.85,3.61,-1.73,1.62,3.68,-1.7,1.65,3.76,-1.69,1.5,5.09,-1.72,.6,3.31,-1.64,1.82,3.44,-1.64,1.45,4.08,-1.62,1.32,4.17,-1.64,1.18,4.31,-1.64,1.1,4.61,-1.66,.98,4.92,-1.66,.62,5.34,-1.61,1.82,5.16,-1.61,.58,5.25,-1.54,.78,3.37,-1.52,1.82,3.53,-1.51,1.8,3.6,-1.54,1.62,3.88,-1.57,1.5,4.02,-1.51,.98,5.03,-1.51,.42,5.16,-1.54,.55,3.47,-1.44,1.72,3.59,-1.44,1.55,3.79,-1.48,1.25,4.26,-1.44,1.15,4.38,-1.46,.82,4.49,-1.49,.6,5.1,-1.46,.75,5.34,-1.38,1.85,4,-1.34,1.02,4.06,-1.32,1.2,4.73,-1.38,.82,3.63,-1.31,1.42,3.31,-1.32,1.5,3.2,-1.38,1.72,3.18,-1.42,1.5,3.73,-1.25,1.4,3.86,-1.27,1.38,4.25,-1.28,.98,3.54,-1.34,1.2,3.39,-1.25,1.45,5.33,-1.25,1.75,2.58,-1.36,1.8,2.72,-1.28,1.85,2.81,-1.28,1.8,2.87,-1.28,1.82,2.95,-1.33,1.85,3.05,-1.42,1.75,3.1,-1.3,1.6,2.11,-1.41,1.85,2.14,-1.42,1.85,2.19,-1.2,1.85,2.34,-1.17,1.82,2.58,-1.2,1.8,2.81,-1.17,1.85,3,-1.19,1.88,3.09,-1.16,1.86,3.19,-1.18,1.48,3.31,-1.19,1.85,3.5,-1.18,1.32,3.59,-1.15,1.25,3.81,-1.13,1.3,4.07,-1.21,1.05,4.17,-1.18,.9,4.41,-1.08,.58,4.57,-1.13,.6,4.82,-1.18,.85,5.33,-1.08,1.75,5.24,-1.01,.65,5.08,-.92,.5,4.81,-1.06,.55,4.9,-.98,.5,4.09,-1.05,1.05,4.26,-.98,.95,4.6,-.9,.7,4.65,-.88,.45,5.18,-.85,.85,5.13,-.79,.75,5.32,-.9,1.38,5.32,-.69,1.42,5.3,-.75,.9,3.16,-1,1.72,2.43,-.93,1.85,2.55,-.95,1.82,2.63,-.98,1.8,2.7,-1,1.82,2.77,-.94,1.85,2.85,-1.01,1.88,2.92,-1.09,1.62,2.98,-1.07,1.62,3.32,-1.07,1.3,3.36,-.98,1.5,3.43,-1.07,1.48,3.5,-1.03,1.42,3.64,-.98,1.2,3.69,-1.01,1.6,3.98,-.95,1.2,2.19,-.95,1.78,2.32,-.95,1.5,2.46,-.83,1.65,2.52,-.83,1.82,2.67,-.92,1.85,2.63,-.72,1.65,2.91,-.8,1.5,3.03,-.85,1.68,3.11,-.88,1.35,3.2,-.83,1.7,3.31,-.87,1.5,4.12,-.8,.98,4.2,-.9,1.1,4.35,-.75,.55,4.48,-.75,.72,4.93,-.79,.5,5.05,-.69,.45,2.46,-.65,1.58,2.58,-.67,1.55,2.64,-.7,1.68,2.72,-.72,1.58,2.84,-.64,1.48,2.99,-.65,1.5,3.08,-.7,1.62,3.12,-.7,1.65,3.23,-.69,1.42,3.4,-.65,1.05,3.78,-.7,1.05,3.82,-.63,1.08,4.09,-.62,.92,5.25,-.52,.55,5.18,-.25,.45,2.45,-.51,1.52,2.78,-.55,1.42,2.96,-.52,1.5,3.22,-.64,1.15,3.45,-.55,1.2,3.59,-.55,1.08,4.27,-.54,.98,4.41,-.51,.78,4.51,-.5,.48,4.75,-.49,.42,5.24,-.43,.78,5.31,-.41,1.7,2.41,-.47,1.15,2.75,-.45,1.65,2.88,-.47,1.42,3.04,-.44,1.12,3.27,-.44,1.18,3.72,-.44,1.02,3.85,-.45,.82,2.5,-.39,1.38,2.95,-.36,1.28,3.16,-.34,1.25,2.13,-.44,1.52,2.84,-.3,1.42,3.07,-.3,1.12,3.85,-.31,.98,4.81,-.28,.48,4.88,-.29,.42,2.5,-.2,1.05,3.02,-.25,1.05,3.69,-.26,.82,3.89,-.21,.75,4.27,-.25,.75,4.67,-.19,.6,4.97,-.17,.38,2.6,-.17,1.48,2.75,-.16,1.38,3.44,-.13,1.08,3.69,-.17,.88,4.15,-.19,.92,4.13,-.13,.78,2.64,-.09,1.52,3.48,-.08,1.08,3.59,-.06,1,4.32,-.07,.8,4.67,-.11,.7,4.94,-.11,.28,2.13,-.01,1.1,2.16,.1,1.5,2.32,-.04,.9,2.63,0,1.15,2.83,-.04,1.12,2.48,.07,1.42,2.9,.04,1.1,3.16,.02,1.2,3.29,.02,1.28,3.25,.02,1.05,3.44,.05,.95,3.67,.04,.98,3.54,.04,1.02,4.41,.04,.72,5.1,.07,.3,5.3,.04,1.25,5.28,-.16,1.02,5.3,-.29,1.05,5.27,.2,.72,5.27,.42,1.08,5.27,.68,.82,5.27,.86,.9,5.26,1.06,.98,5.25,1.21,1.02];
const rightMid=[2.69,.1,1.08,2.73,.16,1.1,2.8,.1,.95,2.9,.17,1.1,2.99,.07,1.1,2.46,.24,1.28,3.29,.16,1.08,3.63,.2,.92,3.79,.27,.88,3.88,.18,.78,4.15,.17,.95,4.87,.2,.22,4.92,.24,.38,5.17,.3,.5,5.06,.32,.48,4.97,.1,.3,5.22,.3,.45,5.1,.43,.42,5.18,.56,.5,3.13,.29,1.08,3,.35,1.1,2.86,.43,1.08,2.82,.53,1.08,2.6,.43,1.15,2.35,.49,.9,3.23,.38,1.02,3.3,.38,.95,3.36,.37,1.02,3.45,.31,.92,3.7,.32,1.05,3.93,.33,.98,4.09,.33,.62,4.38,.32,.78,4.37,.37,.55,4.46,.35,.48,4.68,.43,.45,4.74,.37,.38,4.94,.47,.42,4.69,.63,.38,4.91,.61,.3,4.99,.64,.35,5.08,.81,.35,5.16,1.35,.2,5.15,1.52,.22,5.23,1.68,.5,3.86,.43,.5,3.89,.49,.7,3.65,.47,.75,3.85,.61,.7,3.11,.53,1.02,3.1,.66,.95,3.04,.79,.98,2.48,.6,1.02,2.54,.6,.98,2.49,.76,1.1,2.57,.83,1.02,2.71,.76,1.02,2.56,.96,.95,2.95,.87,.85,2.84,.93,.92,2.77,1.02,1.08,2.72,1.07,.6,2.75,1.14,.8,2.84,1.11,.9,3.05,.91,1,3.13,.95,.92,3.25,.78,1.02,3.31,.88,.85,3.27,.96,.9,3.39,.91,.72,3.19,1.09,.98,3.03,1.11,.65,3.56,.7,.8,3.79,.93,.78,3.98,.66,.72,3.99,.76,.62,4.12,.7,.5,4.23,.66,.42,4.21,.84,.7,4.04,.93,.72,3.94,.97,.42,3.89,1.11,.4,4.13,1.18,.45,4.18,1.32,.35,3.92,1.32,.4,4.37,.83,.42,4.43,.86,.5,4.4,.95,.5,4.47,1.02,.35,4.49,1.11,.28,4.69,.91,.25,4.74,1.17,.3,4.79,1.08,.45,4.87,1.06,.38,4.92,1.04,.25,5.05,1.04,.3,4.76,1.19,.25,4.86,1.29,.22,2.64,1.45,1,2.55,1.19,1.02,2.38,1.37,.8,3.11,1.39,.92,2.79,1.42,.98,2.86,1.52,.75,2.79,1.54,1,2.67,1.55,.82,3.5,1.26,.55,3.53,1.32,.6,3.57,1.35,.55,3.81,1.45,.5,4.38,1.42,.58,4.29,1.57,.72,3.25,1.6,.7,3.2,1.68,.72,3.83,1.63,.72];
const lowerRightA=[5.22,1.7,.5,5.11,1.76,.3,5.15,1.56,.25,4.96,1.69,.55,5.02,1.66,.4,4.74,1.56,.42,4.68,1.71,.5,4.44,1.73,.45,4.37,1.64,.4,4.24,1.81,.3,4.16,1.69,.55,4.12,1.66,.42,4.02,1.66,.45,3.92,1.73,.5,3.73,1.68,.5,3.67,1.69,.48,3.56,1.86,.5,3.44,1.88,.48,3.45,1.99,.45,3.33,1.87,.4,3.22,2.06,.85,3.05,2.04,.62,2.66,1.96,.72,2.58,2.09,.72,2.6,2.23,.8,2.76,2.07,.82,2.84,1.69,.62,2.79,1.84,.85,2.3,1.67,.55,2.23,1.64,.88,2.18,2.16,.5,2.29,2.2,.78,3.68,1.87,.55,3.79,1.88,.5,3.89,1.92,.42,3.86,2.02,.65,4.35,1.92,.42,4.76,1.94,.3,5.05,2.04,.45,5.12,1.99,.68,5.23,2.02,.72,4.43,2.09,.45,4.51,1.99,.6,4.86,2.14,.3,5.11,2.19,.45,5.22,2.22,.5,3.28,2.22,.5,2.97,2.22,.25,2.93,2.33,.45,3.05,2.43,.42,3.25,2.47,.65,3.3,2.39,.5,3.33,2.5,.45,3.37,2.35,.85,3.47,2.5,.5,3.14,2.58,.75,3.19,2.71,.5,3.98,2.17,.72,4.08,2.3,.65,3.95,2.31,.25,4.16,2.4,.35,4.31,2.25,.6,4.5,2.19,.4,4.56,2.22,.35,4.66,2.19,.42,4.5,2.32,.3,4.5,2.48,.25,4.43,2.4,.55,4.63,2.44,.45,4.84,2.42,.55,4.94,2.25,.35,4.98,2.37,.35,5.08,2.45,.3,5.08,2.55,.25,5.18,2.48,.48,5.21,2.5,.7,4.76,2.52,.15,4.25,2.5,.3,4.34,2.5,.42,4.05,2.55,.42,3.81,2.5,.75,3.86,2.63,.35,3.81,2.63,.4,4.26,2.65,.3,4.26,2.71,.42,4.57,2.7,.15,4.93,2.6,.25,4.9,2.71,.22,4.84,2.71,.25,4.72,2.67,.3,4.69,2.77,.42,5.05,2.73,.42,5.18,2.75,.5,5.22,2.73,.55,2.4,2.58,.55,2.57,2.62,.5,2.11,2.76,.68,2.26,2.81,.72,2.71,2.83,.88,2.74,2.83,.25,2.53,2.85,.5,2.61,2.91,.5,2.51,2.96,.48,2.38,2.99,.55,3.33,2.86,.65,3.22,2.94,.55,3.56,2.75,.6,3.7,2.75,.35,3.62,2.91,.35,3.77,2.83,.45,3.82,2.79,.45,3.79,2.99,.45,3.64,3.06,.42,4,2.99,.48,4.33,2.81,.45,4.36,2.91,.3,4.51,2.85,.25,4.57,2.93,.28,4.75,2.99,.35,4.97,2.91,.25,5.02,2.81,.2,5.18,3.03,.68,4.86,3.06,.48,5.12,3.06,.35,2.15,3.2,.88,2.13,3.3,.7,2.76,3.15,.4,2.82,3.09,.42,2.91,3.21,.55,3,3.15,.65,3.33,3.15,.35,3.46,3.11,.42,3.56,3.19,.42,4.05,3.15,.28,4.25,3.19,.3,4.41,3.16,.35,4.49,3.24,.42,4.71,3.24,.15,4.74,3.3,.22,4.83,3.26,.22,4.93,3.24,.35,5.08,3.14,.38,5.16,3.13,.3,5.09,3.34,.15,5.02,3.32,.38,4.15,3.32,.25,4.23,3.34,.4,4.37,3.39,.22,2.66,3.35,.4,2.74,3.42,.42,2.8,3.36,.55,2.88,3.4,.55,3.03,3.47,.6,3.14,3.32,.35,3.26,3.44,.45,3.23,3.48,.22,2.12,3.52,.48,2.52,3.49,.7,2.54,3.46,.2,3.76,3.55,.72,3.82,3.6,.2,3.9,3.49,.25,4,3.45,.42,4.06,3.49,.18,4.16,3.5,.12,3.99,3.64,.35,4.08,3.62,.4,4.16,3.71,.3,4.74,3.44,.25,4.84,3.46,.25,4.89,3.44,.15,5.08,3.44,.2,5.18,3.46,.25,4.93,3.58,.15,5.12,3.57,.25,2.67,3.7,.55,2.78,3.75,.48,3.53,3.69,.3,3.53,3.77,.28,4.4,3.72,.45,4.63,3.72,.22,4.58,3.79,.42,4.68,3.81,.15,4.97,3.67,.22,4.9,3.77,.2,4.86,3.81,.25,4.96,3.83,.18,5.05,3.8,.2,5.12,3.8,.25,5.16,3.7,.42,2.18,3.81,.45,3.36,3.82,.42,4.47,3.89,.48,3.85,3.93,.3,3.9,3.91,.35,4.23,3.88,.28,4.15,3.94,.32,4.22,3.98,.18,4.64,3.97,.15,5.17,3.88,.3,2.74,3.92,.45,2.78,3.98,.42,3.08,3.96,.18,3.2,3.96,.3,2.39,3.98,.42,2.46,4.03,.42,2.52,4.02,.42,2.57,4.01,.38,2.22,4.03,.25,2.3,4.06,.42,2.15,4.1,.5,2.17,4.19,.65,2.1,4.28,.72,3.1,4.12,.42,3.36,4.1,.42,3.32,4.2,.45,3.52,4.08,.3,3.69,4.03,.3,3.75,4.11,.22,3.97,4.06,.3,3.94,4.13,.3,3.89,4.16,.25,4.13,4.08,.42,4.84,4.02,.3,4.81,4.03,.42,5.08,4.1,.42,5.17,4.05,.62,2.92,4.16,.1,3.24,4.22,.68,3.23,4.29,.55,4.41,4.21,.15,4.69,4.23,.22,5.15,4.21,.3];
const lowerRightB=[2.86,4.35,.15,2.76,4.37,.5,2.66,4.41,.28,2.38,4.39,.42,2.39,4.51,.48,2.29,4.52,.42,3.1,4.46,.42,3.18,4.41,.3,3.29,4.36,.25,3.47,4.31,.3,3.81,4.31,.32,3.89,4.34,.3,3.74,4.44,.22,4.07,4.39,.3,4.12,4.39,.35,4.31,4.41,.15,4.36,4.42,.2,4.43,4.43,.3,4.61,4.38,.2,4.72,4.36,.18,4.86,4.33,.15,5.03,4.34,.35,5.06,4.42,.3,5.16,4.31,.3,4.24,4.51,.25,4.46,4.51,.15,4.52,4.56,.25,4.7,4.51,.2,4.84,4.46,.2,4.86,4.54,.18,5.16,4.52,.28,2.71,4.52,.25,2.64,4.59,.42,3.06,4.59,.42,3.42,4.57,.22,3.53,4.56,.42,3.65,4.61,.3,3.21,4.62,.45,3.25,4.73,.48,5.04,4.64,.12,2.12,4.69,.42,2.17,4.79,.25,2.18,4.92,.22,2.34,4.75,.42,2.5,4.85,.12,2.62,4.8,.12,2.75,4.83,.5,3,4.8,.25,3.17,4.77,.2,3.48,4.82,.15,3.64,4.82,.28,4.18,4.67,.12,4.25,4.85,.15,4.64,4.73,.12,5.15,4.65,.3,5.14,4.79,.28,2.12,5.02,.3,2.5,5,.22,2.56,4.98,.42,3.1,4.97,.25,3.14,5.07,.28,3.26,5,.22,3.4,4.9,.12,3.55,4.97,.3,3.65,5.05,.15,3.78,4.94,.42,4.01,4.89,.42,4.31,4.97,.3,4.39,4.96,.15,4.59,4.93,.25,4.58,4.97,.22,4.69,4.9,.12,4.75,4.87,.12,4.91,4.83,.1,4.97,4.83,.1,5.08,4.9,.1,4.81,4.99,.15,4.76,5.06,.12,4.99,5.05,.15,5.05,5.06,.2,2.35,5.11,.12,2.8,5.07,.45,2.71,5.1,.72,2.8,5.2,.15,2.7,5.28,.42,2.52,5.21,.42,2.49,5.31,.15,2.41,5.34,.12,3.22,5.14,.45,3.97,5.1,.15,4.04,5.12,.2,4.49,5.06,.12,4.54,5.13,.12,5.1,5.14,.22,4.82,5.25,.1,4.96,5.26,.12,3.85,5.25,.15,4.17,5.29,.3,4.53,5.33,.25,4.61,5.33,.28,5.1,5.31,.25,4.87,5.4,.2,2.24,5.4,.3,2.3,5.45,.42,2.33,5.49,.42,2.6,5.4,.3,2.86,5.43,.42,2.91,5.41,.42,3.17,5.45,.42,3.23,5.45,.45,3.73,5.38,.25,3.79,5.38,.28,3.99,5.38,.12,5.14,5.43,.15,5.1,5.52,.12,2.12,5.54,.3,2.16,5.5,.15,2.4,5.6,.28,3.3,5.53,.12,3.55,5.53,.12,3.84,5.54,.3,3.97,5.55,.28,4.12,5.55,.25,4.23,5.49,.12,4.32,5.49,.12,4.78,5.56,.2,4.97,5.53,.12,4.91,5.58,.1,5.12,5.63,.2,4.85,5.63,.1,2.8,5.72,.2,2.86,5.72,.15,3.04,5.66,.18,3.11,5.67,.28,3.71,5.64,.15,3.73,5.69,.42,3.5,5.72,.42,3.56,5.7,.25,4.14,5.71,.25,4.35,5.72,.15,4.9,5.74,.1,2.28,5.74,.3,2.61,5.77,.25,3.2,5.79,.12,3,5.82,.2,3.48,5.79,.3,5.09,5.77,.12,2.28,5.84,.15,3.13,5.9,.15,3.48,5.92,.15,3.76,5.87,.28,4,5.91,.25,4.17,5.92,.12,4.81,5.95,.1,4.9,5.96,.1,2.18,5.92,.12,3.82,5.97,.12,3.86,5.97,.2,3.31,5.99,.12,2.1,6.09,.25,2.2,6.05,.2,2.2,6.18,.42,3.69,6.05,.2,3.9,6.09,.15,4.17,6.09,.08,4.57,6.06,.08,4.76,6.14,.1,4.4,6.17,.12,3.14,6.2,.25,3.22,6.22,.15,3.45,6.19,.28,3.53,6.17,.25,3.93,6.22,.18,4.61,6.23,.15,4.86,6.23,.1,2.49,6.3,.28,2.59,6.31,.15,2.39,6.33,.15,3.56,6.3,.12,3.25,6.35,.15,4.39,6.22,.1,4.59,6.37,.12,4.69,6.4,.12,4.97,6.4,.1,5.05,6.37,.08,3.07,6.42,.22,4.33,6.41,.08,4.09,6.44,.05,2.97,6.46,.3,2.65,6.48,.12,3.36,6.5,.1,3.16,6.53,.15,3.2,6.58,.15,2.26,6.54,.1,3.66,6.56,.15,3.59,6.6,.15,2.71,6.62,.15,3.05,6.58,.18,4.28,6.6,.08,4.62,6.58,.08,3.92,6.63,.12,5.06,6.6,.08,3.98,6.71,.2,2.82,6.66,.25,2.9,6.73,.2,2.86,6.76,.22,2.81,6.83,.2,4.75,6.73,.08,5.01,6.73,.08,3.61,6.78,.1,4.69,6.85,.08,5.06,6.84,.08,4.94,6.92,.08,2.21,6.94,.25,2.48,6.94,.1,3.01,6.97,.12,4.26,6.94,.08,4.34,6.94,.08,4.06,6.97,.08,4.01,7.01,.08,3.96,7.01,.08,4.87,6.99,.08,3.53,7.02,.1,3.17,7.11,.15,2.49,7.11,.1,2.32,7.12,.1,2.26,7.22,.12,3.89,7.11,.08,4.17,7.11,.1,4.47,7.14,.08,3.39,7.25,.2,3.32,7.33,.1,4.68,7.29,.06,4.98,7.31,.06,2.3,7.35,.1,3.36,7.6,.08,3.83,7.71,.05,4.28,7.63,.05,5.05,7.7,.05,2.83,8.02,.08,3.23,8.13,.08,2.7,8.24,.06,2.09,8.21,.08,2.97,8.36,.06,3,8.43,.06,4.08,8.91,.03];
const lowerCentre=[-1.16,3.23,.15,-1.59,3.12,.45,-1.42,3.54,.3,-1.36,3.56,.15,-1.39,4.26,.25,-1.1,4.8,.22,-.82,3.04,.42,-.75,2.96,.12,-.46,3.16,.12,-.29,3.18,.45,-.65,3.29,.1,-.63,3.49,.62,-.62,3.41,.25,-.33,3.39,.22,-.51,3.57,.4,-.75,3.62,.12,-.53,3.82,.3,-.57,3.98,.15,-.68,4.25,.15,-.37,4.2,.12,-.37,4.54,.15,-.31,4.56,.15,-.19,4.02,.42,-.14,4.08,.2,-.01,4.36,.22,.04,3.87,.15,.11,4.1,.22,.05,4.99,.22,.18,6.1,.1,.26,6.14,.2,.16,6.21,.25,.03,2.98,.2,.06,3.18,.3,.11,3.34,.42,.15,3.26,.42,.17,3.59,.18,.19,3.7,.3,.32,3.13,.22,.42,3,.5,.58,2.91,.15,.57,3.06,.3,.47,3.22,.55,.59,3.39,.15,.48,3.49,.42,.44,3.67,.1,.55,3.62,.15,.69,3.59,.12,.31,3.83,.42,.37,3.9,.3,.47,3.85,.48,.53,4,.5,.26,4.47,.45,.35,4.58,.15,.4,4.79,.2,.44,5.03,.25,.61,4.15,.15,.61,4.29,.2,.58,4.41,.25,.66,4.48,.42,.53,4.64,.25,.63,4.65,.28,.69,5.15,.15,.71,5.2,.42,.77,3.91,.15,.85,4,.42,.84,3.7,.15,.85,3.55,.45,.81,3.39,.45,.8,3.06,.3,.85,3.14,.25,.84,2.93,.3,.74,2.75,.42,.9,3.44,.45,1,3.03,.65,1.12,3.18,.72,1.22,3.11,.25,1.18,2.99,.3,1.25,3.01,.72,1.37,3.01,.42,1.27,3.27,.45,1.19,3.47,.5,1.26,3.62,.35,1.31,3.82,.55,1.42,4.01,.5,1.25,4.03,.55,1.39,3.88,.12,1.47,3.78,.15,1.54,3.81,.28,.97,3.85,.42,1.04,3.85,.25,.88,4.21,.2,.88,4.34,.15,.99,4.27,.15,1.08,4.31,.42,1.17,4.25,.42,1.25,4.26,.45,1.26,4.35,.48,.98,4.43,.25,1.14,4.52,.3,.89,4.74,.3,1.06,4.66,.15,1.13,4.79,.45,1.45,4.2,.2,1.46,4.38,.25,1.39,4.6,.15,1.47,4.54,.2,1.16,5.08,.15,1.25,5.15,.25,1.04,5.2,.12,1.19,5.35,.15,1.35,4.98,.45,1.55,5.27,.2,1.6,5.25,.22,1.49,5.72,.15,1.74,5.48,.2,1.66,5.6,.28,1.89,5.47,.3,1.88,5.62,.42,1.95,5.66,.3,1.85,5.24,.15,1.43,6.04,.1,1.7,6.12,.42,1.76,6.1,.15,1.53,6.37,.2,1.53,6.5,.2,1.26,6.48,.22,.89,6.76,.12,1.9,6.39,.12,1.77,6.76,.1,1.86,6.81,.2,2.05,7.06,.22,1.84,7.34,.1,2.07,8.2,.08,2.21,6.94,.28,2.25,6.55,.12,2.1,6.09,.2,2.25,7.21,.1,1.74,4.98,.15,1.94,4.98,.15,1.79,4.85,.25,1.77,4.59,.42,1.71,4.72,.5,1.81,4.43,.25,1.86,4.59,.45,1.93,4.23,.22,1.97,4.36,.15,1.98,4.51,.62,2.1,4.27,.68,2.16,4.2,.55,2.07,4.02,.45,1.99,3.95,.42,2.22,4.03,.25,2.18,3.82,.45,1.93,3.67,.15,1.85,3.92,.3,1.68,3.54,.25,1.5,3.29,.48,1.43,3.32,.65,1.64,3.13,.22,1.73,3.18,.15,1.8,3.14,.5,1.67,3.02,.45,1.76,2.96,.62,2.02,3.22,.65,2.16,3.2,.88,2.13,3.31,.7,2.13,3.52,.55,1.86,2.81,.55,1.65,2.78,.5,1.5,2.78,.48,1.45,2.89,.7];
const regions=[tail,leftArm,leftMid,leftUpper,humpTop,ridgeMiddle,midBand,lowerMiddle,rightRiseA,rightRiseB,rightMid,lowerRightA,lowerRightB,lowerCentre];
const arrowPath=[[.022,8.2],[.593,7.04],[1.216,5.56],[1.651,4.33],[1.91,3.48],[2.04,2.49],[2.15,1.56],[2.23,.87]];
const arrowHead=[[2.278,-.117]];
const phi4Ticks=[-6,-1,4], phi1Ticks=[-7.5,0,7.5], kappaTicks=[0,.2,.4,.6,.8,1,1.2,1.4,1.6,1.8];
const jet=['#00007f','#0000b9','#0000f3','#001aff','#004dff','#0080ff','#00b3ff','#00e6f7','#29ffcd','#52ffa4','#7bff7b','#a4ff52','#cdff29','#f7f600','#ffc600','#ff9700','#ff6800','#ff3900','#f30900','#b90000','#7f0000'];
const points=[];
regions.forEach(r=>{for(let i=0;i<r.length;i+=3)points.push([r[i]+PHI4_ORIGIN,r[i+1],r[i+2]]);});
const shift=p=>[p[0]+PHI4_ORIGIN,p[1]];
const SERIF='"Liberation Serif"',SANS='"DejaVu Sans"',AX='#555';
const lineS={onZero:false,lineStyle:{color:AX,width:1.5}};
const tickS={show:true,inside:true,length:7,lineStyle:{color:'#999',width:1}};
const chart=echarts.init(document.getElementById('c'),null,{renderer:'canvas'});
chart.setOption({animation:false,backgroundColor:'#fff',
grid:[{left:270.7,top:125.7,width:1338.8,height:940,outerBoundsMode:'none'},{left:1693,top:125.7,width:47,height:940,outerBoundsMode:'none'}],
xAxis:[
{gridIndex:0,type:'value',min:-6.958,max:4.624,splitLine:{show:false},axisLine:lineS,axisTick:{...tickS,customValues:phi4Ticks},
 axisLabel:{customValues:phi4Ticks,fontFamily:SANS,fontSize:58,color:'#000',margin:6},
 name:'{p|Φ}{s|4}',nameLocation:'middle',nameGap:66,nameTextStyle:{rich:{p:{fontFamily:SERIF,fontSize:76,color:'#000'},s:{fontFamily:SERIF,fontSize:52,color:'#000',padding:[36,0,0,4]}}}},
{gridIndex:0,type:'value',position:'top',min:-6.958,max:4.624,splitLine:{show:false},axisLine:lineS,axisTick:{...tickS,customValues:phi4Ticks},axisLabel:{show:false}},
{gridIndex:1,type:'value',min:0,max:1,show:false}],
yAxis:[
{gridIndex:0,type:'value',inverse:true,min:-9.19,max:9.38,splitLine:{show:false},axisLine:lineS,axisTick:{...tickS,customValues:phi1Ticks},
 axisLabel:{customValues:phi1Ticks,fontFamily:SANS,fontSize:58,color:'#000',margin:10,padding:[8,0,0,0]},
 name:'{p|Φ}{s|1}',nameLocation:'middle',nameGap:126,nameRotate:90,nameTextStyle:{rich:{p:{fontFamily:SERIF,fontSize:76,color:'#000'},s:{fontFamily:SERIF,fontSize:52,color:'#000',padding:[36,0,0,4]}}}},
{gridIndex:0,type:'value',position:'right',inverse:true,min:-9.19,max:9.38,splitLine:{show:false},axisLine:lineS,axisTick:{...tickS,customValues:phi1Ticks},axisLabel:{show:false}},
{gridIndex:1,type:'value',position:'right',min:0,max:1.965,z:10,splitLine:{show:false},axisLine:{show:true,onZero:false,lineStyle:{color:AX,width:1}},axisTick:{show:true,inside:true,length:7,lineStyle:{color:'#444',width:1},customValues:kappaTicks},
 axisLabel:{customValues:kappaTicks,formatter:v=>v.toFixed(1),fontFamily:SANS,fontSize:58,color:'#000',margin:8},
 name:'log({k|κ})',nameLocation:'middle',nameGap:111,nameRotate:90,nameTextStyle:{fontFamily:SERIF,fontSize:80,color:'#000',rich:{k:{fontFamily:SERIF,fontStyle:'italic',fontSize:80,color:'#000'}}}}],
visualMap:[{type:'continuous',seriesIndex:0,dimension:2,min:0,max:1.965,inRange:{color:jet},left:1693,top:125.7,itemWidth:47,itemHeight:940,padding:0,text:null,calculable:false,showLabel:false,hoverLink:false}],
series:[
{type:'scatter',xAxisIndex:0,yAxisIndex:0,data:points,symbolSize:9,large:false,itemStyle:{opacity:1}},
{type:'line',xAxisIndex:0,yAxisIndex:0,data:arrowPath.map(shift),symbol:'none',z:5,lineStyle:{color:'#000',width:8.5}},
{type:'scatter',xAxisIndex:0,yAxisIndex:0,data:arrowHead.map(shift),symbol:'arrow',symbolSize:[40,70],symbolRotate:-9,z:6,itemStyle:{color:'#000',opacity:1}}],
graphic:[
{type:'text',left:745,top:883,z:20,style:{text:'log({k|κ})',fontFamily:SERIF,fontSize:95,fill:'#000',rich:{k:{fontFamily:SERIF,fontStyle:'italic',fontSize:95,fill:'#000'}}}},
{type:'text',left:177,top:78,style:{text:'10',fontFamily:SERIF,fontSize:61,fill:'#000'}},
{type:'text',left:240,top:63,style:{text:'4',fontFamily:SERIF,fontSize:40,fill:'#000'}},
{type:'text',left:1598,top:1075,style:{text:'10',fontFamily:SERIF,fontSize:61,fill:'#000'}},
{type:'text',left:1659,top:1063,style:{text:'4',fontFamily:SERIF,fontSize:40,fill:'#000'}}]
});
</script></body></html>
